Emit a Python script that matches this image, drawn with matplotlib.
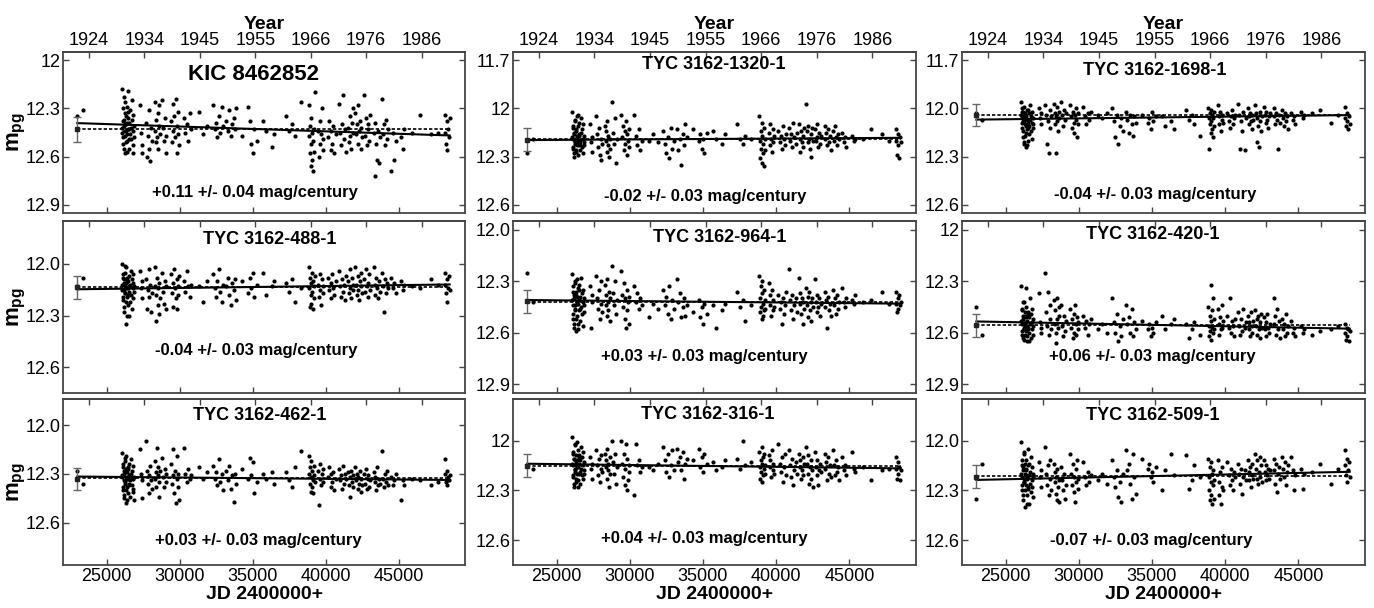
import numpy as np
import matplotlib
matplotlib.use("Agg")
import matplotlib.pyplot as plt

plt.rcParams['font.family'] = ['Liberation Sans', 'DejaVu Sans']
plt.rcParams['mathtext.fontset'] = 'custom'
plt.rcParams['mathtext.rm'] = 'Liberation Sans'
plt.rcParams['mathtext.bf'] = 'Liberation Sans:bold'

# plate epochs, JD - 2400000, one row per observing season
jd = [
    [23000, 23400],
    [26060, 26090, 26120, 26150, 26180, 26210, 26240, 26270, 26300, 26330,
     26360, 26390, 26420, 26450, 26480, 26510, 26540, 26570, 26600, 26630,
     26660, 26690, 26720, 26750, 26780, 26800, 26820, 26840, 26860, 26880],
    [26075, 26105, 26135, 26165, 26195, 26225, 26255, 26285,
     26315, 26345, 26375, 26405, 26435, 26465, 26495, 26525],
    [27300, 27350, 27400, 27450],
    [27700, 27760, 27820, 27880, 27940, 28000, 28060, 28120],
    [28300, 28340, 28380, 28420, 28460, 28500, 28540, 28580, 28620, 28680],
    [28800, 28860, 28920, 28980, 29040, 29100],
    [29400, 29460, 29520, 29580, 29640, 29700, 29760, 29800, 29840, 29880, 29920, 29960],
    [30300, 30400, 30500, 30600, 30700, 30800],
    [31300, 31600, 31900],
    [32300, 32400, 32500, 32600, 32700, 32800, 32900, 33000],
    [33200, 33300, 33400, 33500, 33600, 33700, 33800, 33900],
    [34300, 34700, 34800, 34900, 35000, 35100, 35300],
    [35700, 35900, 36300, 36500],
    [37300, 37500, 37700, 37900, 38300],
    [38850, 38880, 38910, 38940, 38970, 39000, 39030, 39060, 39090, 39120, 39150, 39180, 39220, 39260],
    [39500, 39550, 39600, 39650, 39700, 39750, 39800, 39850],
    [40150, 40250, 40350, 40400, 40450, 40500, 40600, 40700],
    [40900, 40970, 41040, 41110, 41180, 41250, 41320, 41400],
    [41550, 41600, 41650, 41700, 41750, 41800, 41850, 41900],
    [42050, 42100, 42150, 42200, 42250, 42300, 42350, 42400, 42450, 42500],
    [42650, 42700, 42760, 42820, 42880, 42940, 43000, 43060],
    [43300, 43360, 43420, 43480, 43540, 43600, 43660, 43720],
    [43900, 43960, 44020, 44080, 44140, 44200, 44260],
    [44500, 44600, 44700, 44800],
    [45200, 45300, 45400],
    [45900, 46500, 47200, 47700],
    [48150, 48200, 48250, 48300, 48350, 48400, 48450, 48500],
]

mag_kic = [
    [12.35, 12.31],
    [12.18, 12.45, 12.38, 12.52, 12.23, 12.41, 12.47, 12.33, 12.58, 12.40,
     12.44, 12.29, 12.50, 12.36, 12.19, 12.43, 12.55, 12.39, 12.46, 12.31,
     12.42, 12.49, 12.25, 12.37, 12.53, 12.44, 12.34, 12.58, 12.41, 12.48],
    [12.42, 12.30, 12.48, 12.37, 12.55, 12.44, 12.26, 12.40,
     12.51, 12.35, 12.46, 12.39, 12.57, 12.43, 12.32, 12.49],
    [12.28, 12.45, 12.53, 12.58],
    [12.39, 12.60, 12.47, 12.31, 12.55, 12.63, 12.42, 12.50],
    [12.26, 12.44, 12.51, 12.37, 12.48, 12.33, 12.55, 12.41, 12.28, 12.46],
    [12.25, 12.42, 12.50, 12.36, 12.47, 12.58],
    [12.38, 12.51, 12.27, 12.44, 12.35, 12.48, 12.24, 12.41, 12.58, 12.46, 12.32, 12.53],
    [12.36, 12.45, 12.40, 12.50, 12.33, 12.43],
    [12.32, 12.46, 12.41],
    [12.28, 12.43, 12.39, 12.48, 12.35, 12.45, 12.29, 12.41],
    [12.38, 12.44, 12.31, 12.47, 12.40, 12.36, 12.43, 12.30],
    [12.47, 12.29, 12.38, 12.52, 12.58, 12.43, 12.50],
    [12.38, 12.44, 12.54, 12.46],
    [12.35, 12.44, 12.40, 12.47, 12.26],
    [12.28, 12.47, 12.58, 12.41, 12.66, 12.52, 12.36, 12.62, 12.45, 12.69, 12.50, 12.43, 12.57, 12.20],
    [12.44, 12.60, 12.38, 12.52, 12.46, 12.30, 12.56, 12.49],
    [12.48, 12.38, 12.56, 12.44, 12.52, 12.41, 12.58, 12.46],
    [12.27, 12.45, 12.53, 12.40, 12.22, 12.49, 12.43, 12.57],
    [12.42, 12.51, 12.35, 12.47, 12.55, 12.39, 12.30, 12.45],
    [12.33, 12.46, 12.40, 12.52, 12.28, 12.44, 12.38, 12.55, 12.42, 12.48],
    [12.22, 12.47, 12.36, 12.53, 12.43, 12.40, 12.50, 12.34],
    [12.45, 12.72, 12.39, 12.52, 12.62, 12.44, 12.64, 12.48],
    [12.24, 12.46, 12.40, 12.53, 12.37, 12.49, 12.43],
    [12.69, 12.45, 12.62, 12.50],
    [12.48, 12.55, 12.43],
    [12.45, 12.34, 12.46, 12.45],
    [12.34, 12.45, 12.52, 12.38, 12.56, 12.43, 12.48, 12.36],
]

mag_488 = [
    [12.13, 12.08],
    [12.00, 12.15, 12.08, 12.21, 12.11, 12.28, 12.05, 12.17, 12.13, 12.35,
     12.02, 12.19, 12.10, 12.24, 12.14, 12.07, 12.30, 12.16, 12.12, 12.22,
     12.04, 12.18, 12.09, 12.26, 12.14, 12.11, 12.20, 12.06, 12.16, 12.13],
    [12.12, 12.06, 12.19, 12.09, 12.25, 12.15, 12.01, 12.17,
     12.11, 12.22, 12.08, 12.14, 12.30, 12.10, 12.18, 12.13],
    [12.04, 12.14, 12.20, 12.10],
    [12.09, 12.26, 12.15, 12.03, 12.19, 12.12, 12.28, 12.17],
    [12.02, 12.13, 12.33, 12.18, 12.08, 12.24, 12.14, 12.29, 12.11, 12.20],
    [12.05, 12.16, 12.23, 12.10, 12.26, 12.13],
    [12.06, 12.17, 12.11, 12.25, 12.03, 12.14, 12.20, 12.09, 12.26, 12.13, 12.18, 12.07],
    [12.10, 12.16, 12.04, 12.13, 12.19, 12.12],
    [12.13, 12.22, 12.10],
    [12.06, 12.14, 12.19, 12.10, 12.03, 12.16, 12.22, 12.12],
    [12.13, 12.08, 12.18, 12.24, 12.11, 12.15, 12.09, 12.21],
    [12.10, 12.17, 12.08, 12.14, 12.05, 12.19, 12.12],
    [12.05, 12.18, 12.13, 12.10],
    [12.11, 12.16, 12.09, 12.22, 12.14],
    [12.02, 12.14, 12.25, 12.08, 12.18, 12.11, 12.23, 12.05, 12.16, 12.26, 12.10, 12.13, 12.20, 12.07],
    [12.12, 12.19, 12.06, 12.15, 12.24, 12.09, 12.17, 12.13],
    [12.08, 12.15, 12.11, 12.20, 12.06, 12.14, 12.18, 12.10],
    [12.04, 12.13, 12.19, 12.09, 12.16, 12.12, 12.21, 12.07],
    [12.10, 12.17, 12.03, 12.14, 12.20, 12.08, 12.15, 12.12],
    [12.02, 12.12, 12.18, 12.07, 12.15, 12.21, 12.10, 12.13, 12.05, 12.17],
    [12.09, 12.16, 12.03, 12.13, 12.19, 12.11, 12.06, 12.15],
    [12.02, 12.12, 12.18, 12.08, 12.14, 12.20, 12.10, 12.16],
    [12.05, 12.13, 12.28, 12.09, 12.17, 12.11, 12.14],
    [12.08, 12.14, 12.11, 12.17],
    [12.10, 12.15, 12.12],
    [12.13, 12.14, 12.09, 12.12],
    [12.05, 12.12, 12.17, 12.09, 12.22, 12.14, 12.07, 12.15],
]

mag_462 = [
    [12.28, 12.36],
    [12.17, 12.32, 12.26, 12.40, 12.30, 12.45, 12.22, 12.35, 12.29, 12.48,
     12.19, 12.33, 12.38, 12.27, 12.42, 12.31, 12.24, 12.36, 12.34, 12.44,
     12.21, 12.30, 12.37, 12.28, 12.41, 12.33, 12.25, 12.39, 12.32, 12.46],
    [12.31, 12.24, 12.38, 12.28, 12.43, 12.34, 12.20, 12.36,
     12.27, 12.40, 12.32, 12.29, 12.46, 12.33, 12.26, 12.37],
    [12.15, 12.30, 12.45, 12.34],
    [12.10, 12.28, 12.36, 12.31, 12.42, 12.25, 12.34, 12.39],
    [12.22, 12.33, 12.29, 12.38, 12.14, 12.31, 12.26, 12.44, 12.35, 12.28],
    [12.20, 12.32, 12.38, 12.27, 12.35, 12.30],
    [12.24, 12.36, 12.15, 12.31, 12.42, 12.28, 12.48, 12.33, 12.19, 12.38, 12.30, 12.46],
    [12.14, 12.30, 12.35, 12.27, 12.33, 12.31],
    [12.26, 12.33, 12.29],
    [12.25, 12.33, 12.29, 12.37, 12.21, 12.35, 12.30, 12.40],
    [12.28, 12.34, 12.25, 12.39, 12.31, 12.47, 12.30, 12.36],
    [12.27, 12.33, 12.20, 12.31, 12.23, 12.42, 12.35],
    [12.30, 12.33, 12.29, 12.36],
    [12.29, 12.34, 12.38, 12.26, 12.16],
    [12.19, 12.30, 12.36, 12.26, 12.41, 12.32, 12.22, 12.38, 12.28, 12.34, 12.42, 12.31, 12.25, 12.35],
    [12.28, 12.49, 12.33, 12.24, 12.37, 12.30, 12.35, 12.27],
    [12.32, 12.26, 12.38, 12.30, 12.35, 12.29, 12.40, 12.33],
    [12.27, 12.34, 12.31, 12.39, 12.25, 12.36, 12.30, 12.33],
    [12.29, 12.37, 12.32, 12.44, 12.28, 12.35, 12.31, 12.38],
    [12.26, 12.34, 12.30, 12.39, 12.32, 12.36, 12.28, 12.41, 12.33, 12.37],
    [12.30, 12.36, 12.27, 12.39, 12.33, 12.31, 12.38, 12.34],
    [12.29, 12.35, 12.32, 12.40, 12.26, 12.37, 12.33, 12.36],
    [12.16, 12.33, 12.38, 12.30, 12.35, 12.28, 12.37],
    [12.32, 12.37, 12.34, 12.30],
    [12.46, 12.34, 12.37],
    [12.33, 12.34, 12.37, 12.35],
    [12.21, 12.30, 12.35, 12.28, 12.37, 12.32, 12.34, 12.31],
]

mag_1320 = [
    [12.28, 12.19],
    [12.02, 12.19, 12.12, 12.25, 12.16, 12.30, 12.08, 12.21, 12.14, 12.27,
     12.05, 12.18, 12.23, 12.11, 12.29, 12.17, 12.09, 12.22, 12.20, 12.26,
     12.06, 12.15, 12.24, 12.13, 12.28, 12.19, 12.10, 12.23, 12.17, 12.21],
    [12.18, 12.11, 12.24, 12.15, 12.28, 12.20, 12.07, 12.22,
     12.13, 12.26, 12.17, 12.19, 12.04, 12.21, 12.16, 12.23],
    [12.10, 12.21, 12.27, 12.18],
    [12.05, 12.16, 12.24, 12.12, 12.29, 12.19, 12.32, 12.22],
    [12.11, 12.20, 12.14, 12.27, 12.08, 12.23, 12.17, 12.30, 12.19, 12.25],
    [11.96, 12.15, 12.22, 12.06, 12.34, 12.19],
    [12.04, 12.18, 12.11, 12.26, 12.14, 12.22, 12.08, 12.29, 12.16, 12.20, 12.13, 12.24],
    [12.04, 12.17, 12.23, 12.13, 12.26, 12.20],
    [12.20, 12.16, 12.21],
    [12.14, 12.22, 12.28, 12.18, 12.31, 12.12, 12.25, 12.20],
    [12.13, 12.26, 12.19, 12.35, 12.16, 12.23, 12.10, 12.18],
    [12.13, 12.20, 12.16, 12.25, 12.19, 12.28, 12.15],
    [12.14, 12.19, 12.22, 12.16],
    [12.10, 12.19, 12.22, 12.17, 12.19],
    [12.05, 12.20, 12.31, 12.14, 12.25, 12.34, 12.17, 12.09, 12.28, 12.22, 12.36, 12.12, 12.19, 12.26],
    [12.15, 12.23, 12.10, 12.19, 12.27, 12.13, 12.21, 12.17],
    [12.14, 12.21, 12.17, 12.25, 12.11, 12.19, 12.23, 12.16],
    [12.12, 12.20, 12.16, 12.24, 12.09, 12.18, 12.22, 12.15],
    [12.10, 12.19, 12.27, 12.14, 12.21, 12.17, 12.24, 12.12],
    [11.97, 12.14, 12.21, 12.11, 12.19, 12.25, 12.16, 12.30, 12.12, 12.20],
    [12.13, 12.20, 12.10, 12.18, 12.24, 12.15, 12.22, 12.17],
    [12.11, 12.19, 12.15, 12.23, 12.13, 12.21, 12.17, 12.26],
    [12.14, 12.20, 12.11, 12.18, 12.23, 12.16, 12.19],
    [12.15, 12.21, 12.18, 12.24],
    [12.17, 12.20, 12.19],
    [12.19, 12.13, 12.16, 12.20],
    [12.13, 12.20, 12.29, 12.16, 12.23, 12.31, 12.18, 12.21],
]

mag_964 = [
    [12.25, 12.42],
    [12.26, 12.44, 12.36, 12.52, 12.40, 12.57, 12.31, 12.47, 12.38, 12.59,
     12.29, 12.43, 12.50, 12.34, 12.55, 12.41, 12.32, 12.46, 12.39, 12.53,
     12.28, 12.45, 12.37, 12.49, 12.42, 12.56, 12.35, 12.48, 12.40, 12.44],
    [12.41, 12.33, 12.49, 12.38, 12.55, 12.44, 12.30, 12.46,
     12.36, 12.52, 12.42, 12.39, 12.58, 12.43, 12.35, 12.47],
    [12.33, 12.57, 12.42, 12.38],
    [12.27, 12.40, 12.46, 12.35, 12.52, 12.43, 12.30, 12.48],
    [12.32, 12.44, 12.38, 12.50, 12.29, 12.42, 12.47, 12.36, 12.53, 12.40],
    [12.21, 12.37, 12.44, 12.30, 12.49, 12.41],
    [12.24, 12.38, 12.45, 12.31, 12.52, 12.40, 12.57, 12.35, 12.47, 12.42, 12.55, 12.39],
    [12.33, 12.42, 12.37, 12.46, 12.40, 12.44],
    [12.51, 12.43, 12.46],
    [12.35, 12.44, 12.39, 12.49, 12.33, 12.52, 12.41, 12.46],
    [12.29, 12.42, 12.37, 12.51, 12.45, 12.40, 12.50, 12.44],
    [12.48, 12.41, 12.51, 12.45, 12.55, 12.43, 12.49],
    [12.44, 12.57, 12.47, 12.43],
    [12.36, 12.45, 12.41, 12.53, 12.44],
    [12.27, 12.40, 12.48, 12.33, 12.45, 12.37, 12.52, 12.30, 12.43, 12.50, 12.35, 12.47, 12.41, 12.46],
    [12.31, 12.44, 12.38, 12.50, 12.35, 12.47, 12.41, 12.45],
    [12.38, 12.46, 12.42, 12.55, 12.40, 12.49, 12.44, 12.36],
    [12.23, 12.41, 12.47, 12.38, 12.52, 12.44, 12.40, 12.48],
    [12.28, 12.43, 12.37, 12.49, 12.40, 12.55, 12.42, 12.46],
    [12.34, 12.44, 12.39, 12.51, 12.36, 12.47, 12.42, 12.53, 12.40, 12.45],
    [12.29, 12.42, 12.38, 12.48, 12.45, 12.40, 12.50, 12.43],
    [12.36, 12.45, 12.41, 12.57, 12.39, 12.47, 12.43, 12.50],
    [12.35, 12.44, 12.40, 12.49, 12.38, 12.46, 12.42],
    [12.34, 12.42, 12.45, 12.40],
    [12.41, 12.43, 12.38],
    [12.42, 12.41, 12.36, 12.43],
    [12.36, 12.43, 12.48, 12.40, 12.46, 12.38, 12.44, 12.42],
]

mag_316 = [
    [12.15, 12.17],
    [11.98, 12.15, 12.08, 12.22, 12.11, 12.28, 12.03, 12.18, 12.13, 12.25,
     12.01, 12.16, 12.20, 12.06, 12.24, 12.14, 12.09, 12.19, 12.12, 12.26,
     12.04, 12.17, 12.21, 12.10, 12.23, 12.15, 12.07, 12.20, 12.13, 12.18],
    [12.14, 12.07, 12.21, 12.11, 12.26, 12.17, 12.02, 12.19,
     12.09, 12.23, 12.15, 12.12, 12.28, 12.16, 12.10, 12.20],
    [12.10, 12.17, 12.23, 12.14],
    [12.06, 12.15, 12.21, 12.11, 12.25, 12.17, 12.09, 12.19],
    [12.08, 12.16, 12.12, 12.23, 12.05, 12.18, 12.14, 12.28, 12.10, 12.20],
    [12.00, 12.13, 12.20, 12.08, 12.26, 12.16],
    [12.00, 12.14, 12.22, 12.08, 12.27, 12.17, 12.02, 12.30, 12.11, 12.24, 12.15, 12.19],
    [12.33, 12.02, 12.15, 12.12, 12.19, 12.16],
    [12.16, 12.18, 12.14],
    [12.04, 12.12, 12.19, 12.08, 12.22, 12.15, 12.06, 12.18],
    [12.05, 12.13, 12.10, 12.18, 12.07, 12.23, 12.14, 12.11],
    [12.12, 12.05, 12.16, 12.10, 12.19, 12.08, 12.14],
    [12.13, 12.18, 12.16, 12.12],
    [12.11, 12.17, 12.00, 12.15, 12.13],
    [12.07, 12.16, 12.23, 12.12, 12.19, 12.04, 12.25, 12.14, 12.10, 12.21, 12.17, 12.08, 12.15, 12.20],
    [12.09, 12.16, 12.12, 12.22, 12.06, 12.18, 12.14, 12.20],
    [12.02, 12.14, 12.19, 12.10, 12.25, 12.16, 12.08, 12.21],
    [12.06, 12.15, 12.22, 12.11, 12.27, 12.18, 12.13, 12.20],
    [12.08, 12.16, 12.12, 12.23, 12.18, 12.10, 12.21, 12.14],
    [12.04, 12.14, 12.20, 12.09, 12.26, 12.16, 12.12, 12.23, 12.18, 12.28],
    [12.07, 12.16, 12.21, 12.12, 12.27, 12.18, 12.14, 12.19],
    [12.08, 12.17, 12.13, 12.24, 12.10, 12.20, 12.15, 12.22],
    [12.06, 12.15, 12.21, 12.12, 12.19, 12.16, 12.24],
    [12.10, 12.18, 12.15, 12.21],
    [12.07, 12.17, 12.19],
    [12.16, 12.24, 12.18, 12.17],
    [12.10, 12.17, 12.23, 12.13, 12.20, 12.16, 12.24, 12.18],
]

mag_1698 = [
    [12.03, 12.07],
    [11.96, 12.05, 12.12, 12.02, 12.18, 12.08, 12.22, 11.99, 12.10, 12.04,
     12.15, 12.24, 12.06, 12.13, 12.01, 12.09, 12.20, 12.03, 12.11, 12.16,
     11.98, 12.07, 12.14, 12.05, 12.19, 12.09, 12.02, 12.12, 12.06, 12.10],
    [12.04, 12.00, 12.09, 12.02, 12.14, 12.06, 12.21, 12.08,
     12.03, 12.17, 12.05, 12.11, 12.23, 12.07, 12.01, 12.12],
    [12.00, 12.06, 12.10, 12.03],
    [11.98, 12.04, 12.22, 12.08, 12.28, 12.01, 12.12, 12.05],
    [11.97, 12.03, 12.10, 12.28, 12.05, 11.99, 12.08, 12.14, 12.02, 12.06],
    [11.96, 12.04, 12.11, 12.01, 12.07, 12.03],
    [11.98, 12.05, 12.12, 12.02, 12.09, 12.15, 12.04, 12.00, 12.07, 12.18, 12.03, 12.10],
    [11.99, 12.05, 12.10, 12.03, 12.07, 12.02],
    [12.04, 12.06, 12.03],
    [12.00, 12.08, 12.18, 12.04, 12.22, 12.11, 12.06, 12.14],
    [12.02, 12.07, 12.15, 12.04, 12.10, 12.17, 12.05, 12.09],
    [12.04, 12.09, 12.06, 12.13, 12.02, 12.08, 12.05],
    [12.05, 12.11, 12.08, 12.13],
    [12.01, 12.07, 12.04, 12.10, 12.17],
    [12.00, 12.06, 12.25, 12.03, 12.10, 12.15, 12.01, 12.08, 12.13, 12.04, 12.18, 12.06, 12.11, 12.02],
    [11.98, 12.05, 12.10, 12.02, 12.14, 12.07, 12.04, 12.09],
    [12.03, 12.08, 12.12, 12.05, 12.01, 12.10, 12.06, 12.04],
    [11.97, 12.04, 12.25, 12.08, 12.14, 12.02, 12.26, 12.06],
    [12.00, 12.05, 12.10, 12.03, 12.08, 12.13, 12.04, 12.07],
    [11.98, 12.03, 12.21, 12.06, 12.11, 12.24, 12.02, 12.08, 12.14, 12.05],
    [11.99, 12.04, 12.09, 12.02, 12.07, 12.12, 12.05, 12.03],
    [12.00, 12.05, 12.10, 12.03, 12.07, 12.25, 12.04, 12.09],
    [12.01, 12.06, 12.11, 12.03, 12.08, 12.05, 12.13],
    [12.03, 12.07, 12.05, 12.10],
    [12.02, 12.06, 12.04],
    [12.03, 12.01, 12.09, 12.04],
    [11.99, 12.06, 12.11, 12.03, 12.08, 12.13, 12.05, 12.10],
]

mag_420 = [
    [12.45, 12.61],
    [12.33, 12.55, 12.47, 12.61, 12.52, 12.42, 12.58, 12.64, 12.50, 12.56,
     12.34, 12.59, 12.45, 12.62, 12.53, 12.48, 12.57, 12.65, 12.51, 12.60,
     12.40, 12.55, 12.63, 12.49, 12.58, 12.54, 12.46, 12.61, 12.56, 12.52],
    [12.53, 12.46, 12.59, 12.50, 12.63, 12.55, 12.42, 12.57,
     12.48, 12.61, 12.54, 12.51, 12.65, 12.56, 12.49, 12.58],
    [12.37, 12.54, 12.60, 12.57],
    [12.25, 12.48, 12.56, 12.36, 12.61, 12.52, 12.44, 12.58],
    [12.41, 12.55, 12.47, 12.60, 12.66, 12.52, 12.40, 12.57, 12.50, 12.45],
    [12.44, 12.56, 12.62, 12.50, 12.59, 12.53],
    [12.46, 12.57, 12.52, 12.63, 12.49, 12.60, 12.44, 12.55, 12.61, 12.51, 12.58, 12.54],
    [12.50, 12.57, 12.53, 12.61, 12.55, 12.52],
    [12.58, 12.55, 12.60],
    [12.40, 12.54, 12.60, 12.49, 12.65, 12.56, 12.62, 12.52],
    [12.44, 12.55, 12.51, 12.60, 12.46, 12.62, 12.54, 12.58],
    [12.53, 12.58, 12.55, 12.62, 12.57, 12.60, 12.54],
    [12.50, 12.58, 12.55, 12.52],
    [12.55, 12.63, 12.58, 12.54, 12.61],
    [12.45, 12.56, 12.62, 12.50, 12.59, 12.32, 12.53, 12.64, 12.47, 12.57, 12.40, 12.60, 12.52, 12.58],
    [12.46, 12.55, 12.61, 12.51, 12.58, 12.44, 12.57, 12.53],
    [12.50, 12.57, 12.40, 12.60, 12.53, 12.56, 12.62, 12.52],
    [12.48, 12.56, 12.61, 12.52, 12.59, 12.46, 12.57, 12.54],
    [12.50, 12.58, 12.54, 12.62, 12.48, 12.56, 12.60, 12.53],
    [12.47, 12.56, 12.52, 12.61, 12.50, 12.58, 12.54, 12.63, 12.49, 12.57],
    [12.51, 12.58, 12.54, 12.62, 12.49, 12.57, 12.60, 12.55],
    [12.40, 12.55, 12.50, 12.61, 12.46, 12.58, 12.53, 12.63],
    [12.52, 12.58, 12.55, 12.62, 12.49, 12.60, 12.56],
    [12.53, 12.60, 12.57, 12.62],
    [12.56, 12.60, 12.58],
    [12.61, 12.59, 12.58, 12.56],
    [12.55, 12.60, 12.64, 12.57, 12.62, 12.58, 12.65, 12.59],
]

mag_509 = [
    [12.35, 12.14],
    [12.01, 12.22, 12.15, 12.30, 12.18, 12.36, 12.08, 12.25, 12.20, 12.40,
     12.12, 12.27, 12.17, 12.33, 12.23, 12.05, 12.29, 12.21, 12.38, 12.14,
     12.26, 12.19, 12.31, 12.10, 12.24, 12.28, 12.16, 12.34, 12.22, 12.20],
    [12.20, 12.12, 12.27, 12.16, 12.33, 12.23, 12.07, 12.25,
     12.14, 12.30, 12.21, 12.18, 12.38, 12.22, 12.15, 12.28],
    [12.13, 12.22, 12.28, 12.18],
    [12.04, 12.20, 12.27, 12.15, 12.33, 12.23, 12.12, 12.30],
    [12.14, 12.25, 12.19, 12.32, 12.22, 12.36, 12.17, 12.28, 12.24, 12.37],
    [12.16, 12.24, 12.30, 12.20, 12.35, 12.27],
    [12.08, 12.20, 12.27, 12.14, 12.31, 12.22, 12.37, 12.17, 12.25, 12.12, 12.29, 12.23],
    [12.13, 12.22, 12.27, 12.19, 12.25, 12.21],
    [12.24, 12.20, 12.26],
    [12.12, 12.22, 12.28, 12.18, 12.34, 12.25, 12.37, 12.20],
    [12.06, 12.18, 12.14, 12.26, 12.35, 12.08, 12.22, 12.32],
    [12.11, 12.17, 12.14, 12.22, 12.19, 12.25, 12.16],
    [12.30, 12.18, 12.08, 12.21],
    [12.09, 12.29, 12.24, 12.15, 12.22],
    [12.11, 12.22, 12.30, 12.16, 12.36, 12.25, 12.13, 12.33, 12.20, 12.38, 12.27, 12.18, 12.35, 12.24],
    [12.12, 12.25, 12.33, 12.19, 12.38, 12.28, 12.16, 12.30],
    [12.13, 12.21, 12.27, 12.17, 12.24, 12.30, 12.19, 12.22],
    [12.14, 12.20, 12.26, 12.17, 12.32, 12.22, 12.18, 12.24],
    [12.12, 12.19, 12.24, 12.16, 12.28, 12.21, 12.14, 12.23],
    [12.08, 12.17, 12.23, 12.12, 12.26, 12.19, 12.10, 12.22, 12.15, 12.25],
    [12.12, 12.19, 12.24, 12.15, 12.21, 12.17, 12.23, 12.18],
    [12.11, 12.18, 12.26, 12.14, 12.31, 12.20, 12.16, 12.23],
    [12.10, 12.17, 12.22, 12.13, 12.27, 12.19, 12.15],
    [12.10, 12.18, 12.30, 12.21],
    [12.17, 12.29, 12.20],
    [12.19, 12.14, 12.26, 12.17],
    [12.06, 12.15, 12.21, 12.11, 12.25, 12.18, 12.13, 12.22],
]

# panels in column order: left, middle, right
names = ['KIC 8462852', 'TYC 3162-488-1', 'TYC 3162-462-1',
         'TYC 3162-1320-1', 'TYC 3162-964-1', 'TYC 3162-316-1',
         'TYC 3162-1698-1', 'TYC 3162-420-1', 'TYC 3162-509-1']
mags = [mag_kic, mag_488, mag_462, mag_1320, mag_964, mag_316,
        mag_1698, mag_420, mag_509]
slope = [0.11, -0.04, 0.03, -0.02, 0.03, 0.04, -0.04, 0.06, -0.07]      # mag/century
slope_err = [0.04, 0.03, 0.03, 0.03, 0.03, 0.03, 0.03, 0.03, 0.03]
fit_mid = [12.43, 12.133, 12.327, 12.19, 12.42, 12.154, 12.056, 12.555, 12.213]
mean_mag = [12.43, 12.135, 12.325, 12.19, 12.42, 12.155, 12.04, 12.555, 12.213]
err_mag = [12.43, 12.135, 12.33, 12.194, 12.418, 12.151, 12.04, 12.557, 12.217]
err_size = [0.078, 0.068, 0.068, 0.07, 0.066, 0.07, 0.067, 0.068, 0.069]
ylims = [(12.95, 11.95), (12.75, 11.75), (12.86, 11.84),
         (12.65, 11.65), (12.95, 11.95), (12.75, 11.75),
         (12.65, 11.65), (12.95, 11.95), (12.75, 11.75)]
ytick_labels = [['12', '12.3', '12.6', '12.9'], ['12.0', '12.3', '12.6'], ['12.0', '12.3', '12.6'],
                ['11.7', '12', '12.3', '12.6'], ['12.0', '12.3', '12.6', '12.9'], ['12', '12.3', '12.6'],
                ['11.7', '12.0', '12.3', '12.6'], ['12', '12.3', '12.6', '12.9'], ['12.0', '12.3', '12.6']]
jd_ticks = [25000, 30000, 35000, 40000, 45000]
year_ticks = [1924.0, 1934.4, 1944.8, 1955.2, 1965.6, 1976.0, 1986.4]
year_labels = ['1924', '1934', '1945', '1955', '1966', '1976', '1986']

# text placement in axes fraction: (title x, title y, slope x, slope y)
text_pos = [(0.473, 0.863, 0.478, 0.127), (0.515, 0.895, 0.48, 0.247), (0.49, 0.90, 0.485, 0.146),
            (0.499, 0.92, 0.476, 0.10), (0.514, 0.905, 0.474, 0.21), (0.483, 0.908, 0.474, 0.157),
            (0.479, 0.884, 0.479, 0.112), (0.474, 0.923, 0.473, 0.215), (0.474, 0.903, 0.47, 0.147)]


def jd_to_year(x):
    return 1900.0 + (np.asarray(x) - 15020.0) / 365.25


def year_to_jd(y):
    return 15020.0 + (np.asarray(y) - 1900.0) * 365.25


W, H = 1374, 608
col_px = [(63, 465), (513, 916), (962, 1365)]
row_px = [(52, 213), (221, 393), (399, 565)]
frame = '#454545'

fig = plt.figure(figsize=(W / 100, H / 100), dpi=100)

for k in range(9):
    c, r = divmod(k, 3)
    x0, x1 = col_px[c]
    y0, y1 = row_px[r]
    ax = fig.add_axes([x0 / W, 1 - y1 / H, (x1 - x0) / W, (y1 - y0) / H])

    xs, ys = [], []
    for season_jd, season_mag in zip(jd, mags[k]):
        for t, m in zip(season_jd, season_mag):
            xs.append(t)
            ys.append(m)
    ax.scatter(xs, ys, s=9, c='k', linewidths=0, zorder=3)

    # linear trend from the quoted slope, and the mean level
    xf = np.array([23000, 48500])
    ax.plot(xf, fit_mid[k] + slope[k] * (xf - 35750) / 36525.0, color='k', lw=1.5, zorder=4)
    ax.plot(xf, [mean_mag[k], mean_mag[k]], color='k', lw=1.2, ls=(0, (2, 1.2)), zorder=4)
    ax.errorbar(23000, err_mag[k], yerr=err_size[k], fmt='s', ms=3.5, color='#222',
                ecolor='#666', elinewidth=1, capsize=3, capthick=1, zorder=5)

    ax.set_xlim(22020, 49550)
    ax.set_ylim(*ylims[k])
    ax.set_yticks([float(t) for t in ytick_labels[k]])
    ax.set_yticklabels(ytick_labels[k])
    ax.set_xticks(jd_ticks)
    if r == 2:
        ax.set_xticklabels([str(t) for t in jd_ticks])
        ax.set_xlabel('JD 2400000+', fontsize=14, fontweight='bold', labelpad=1)
    else:
        ax.set_xticklabels([])
    ax.tick_params(direction='in', length=4, width=1, color=frame, labelsize=13,
                   pad=2, right=True, top=False)
    for sp in ax.spines.values():
        sp.set_color(frame)
        sp.set_linewidth(1.3)

    sec = ax.secondary_xaxis('top', functions=(jd_to_year, year_to_jd))
    if r == 0:
        sec.set_xticks(year_ticks, labels=year_labels)
        sec.set_xlabel('Year', fontsize=14, fontweight='bold', labelpad=2)
    else:
        sec.set_xticks(year_ticks, labels=[''] * len(year_ticks))
    sec.tick_params(direction='in', length=4, width=1, color=frame, labelsize=13, pad=2)
    sec.spines['top'].set_color(frame)
    sec.spines['top'].set_linewidth(1.3)

    if c == 0:
        ax.set_ylabel(r'$\mathbf{m}_{\mathbf{pg}}$', fontsize=16)
        ax.yaxis.set_label_coords(-0.088, 0.5)

    tx, ty, sx, sy = text_pos[k]
    ax.text(tx, ty, names[k], transform=ax.transAxes, ha='center', va='center',
            fontsize=16 if k == 0 else 13, fontweight='bold')
    ax.text(sx, sy, f'{slope[k]:+.2f} +/- {slope_err[k]:.2f} mag/century',
            transform=ax.transAxes, ha='center', va='center', fontsize=12, fontweight='bold')

fig.savefig('out.png', dpi=100)
